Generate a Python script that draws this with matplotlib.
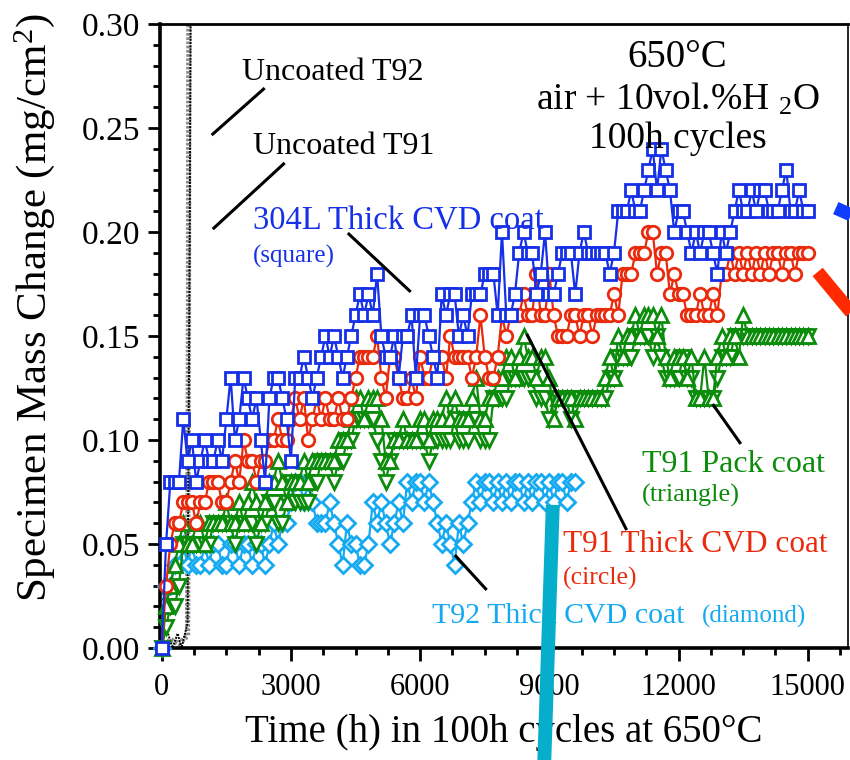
import numpy as np
import matplotlib
matplotlib.use("Agg")
import matplotlib.pyplot as plt
from matplotlib.ticker import MultipleLocator, FormatStrFormatter

# ---- measured mass change (mg/cm^2), one reading per 100 h cycle ----
hours_full = np.arange(0, 15100, 100)
hours_t92 = np.arange(0, 9700, 100)

mass_304L = [
    0.00, 0.05, 0.08, 0.08, 0.08, 0.11, 0.09, 0.10, 0.08, 0.09,
    0.10, 0.09, 0.09, 0.10, 0.09, 0.11, 0.13, 0.10, 0.11, 0.13,
    0.12, 0.11, 0.12, 0.10, 0.08, 0.12, 0.13, 0.13, 0.12, 0.11,
    0.09, 0.13, 0.13, 0.14, 0.13, 0.12, 0.13, 0.14, 0.15, 0.14,
    0.15, 0.14, 0.13, 0.14, 0.15, 0.16, 0.17, 0.16, 0.17, 0.16,
    0.18, 0.15, 0.14, 0.14, 0.15, 0.13, 0.15, 0.15, 0.16, 0.13,
    0.16, 0.16, 0.15, 0.14, 0.13, 0.17, 0.16, 0.17, 0.17, 0.15,
    0.16, 0.15, 0.17, 0.17, 0.17, 0.18, 0.18, 0.18, 0.16, 0.20,
    0.16, 0.16, 0.17, 0.19, 0.20, 0.19, 0.19, 0.17, 0.18, 0.20,
    0.17, 0.17, 0.18, 0.19, 0.19, 0.19, 0.17, 0.19, 0.20, 0.19,
    0.19, 0.19, 0.19, 0.19, 0.18, 0.19, 0.21, 0.21, 0.21, 0.22,
    0.21, 0.21, 0.22, 0.23, 0.24, 0.22, 0.24, 0.23, 0.22, 0.20,
    0.21, 0.21, 0.20, 0.19, 0.20, 0.19, 0.20, 0.20, 0.19, 0.18,
    0.20, 0.19, 0.20, 0.21, 0.22, 0.21, 0.21, 0.22, 0.21, 0.22,
    0.22, 0.21, 0.21, 0.21, 0.22, 0.23, 0.21, 0.21, 0.22, 0.21,
    0.21,
]

mass_t91_cvd = [
    0.00, 0.03, 0.05, 0.06, 0.06, 0.07, 0.07, 0.07, 0.06, 0.07,
    0.07, 0.08, 0.08, 0.08, 0.07, 0.07, 0.08, 0.09, 0.08, 0.10,
    0.09, 0.09, 0.08, 0.09, 0.09, 0.10, 0.10, 0.11, 0.10, 0.10,
    0.11, 0.12, 0.11, 0.12, 0.10, 0.11, 0.12, 0.11, 0.12, 0.11,
    0.11, 0.12, 0.11, 0.11, 0.12, 0.13, 0.14, 0.14, 0.14, 0.14,
    0.15, 0.13, 0.12, 0.14, 0.14, 0.13, 0.12, 0.12, 0.13, 0.12,
    0.14, 0.13, 0.13, 0.14, 0.14, 0.14, 0.13, 0.15, 0.14, 0.14,
    0.14, 0.14, 0.13, 0.14, 0.16, 0.14, 0.13, 0.13, 0.14, 0.16,
    0.15, 0.16, 0.16, 0.16, 0.17, 0.16, 0.16, 0.18, 0.16, 0.16,
    0.18, 0.16, 0.15, 0.15, 0.15, 0.16, 0.16, 0.15, 0.16, 0.16,
    0.15, 0.16, 0.16, 0.16, 0.16, 0.17, 0.16, 0.18, 0.18, 0.18,
    0.19, 0.19, 0.19, 0.20, 0.20, 0.18, 0.19, 0.19, 0.17, 0.18,
    0.17, 0.17, 0.16, 0.16, 0.16, 0.17, 0.16, 0.16, 0.17, 0.16,
    0.18, 0.18, 0.19, 0.18, 0.19, 0.18, 0.19, 0.18, 0.19, 0.18,
    0.19, 0.18, 0.19, 0.19, 0.18, 0.19, 0.19, 0.18, 0.19, 0.19,
    0.19,
]

mass_t91_pack_a = [
    0.00, 0.02, 0.03, 0.04, 0.05, 0.06, 0.05, 0.05, 0.06, 0.06,
    0.05, 0.06, 0.06, 0.06, 0.06, 0.07, 0.06, 0.06, 0.07, 0.06,
    0.07, 0.08, 0.07, 0.06, 0.07, 0.08, 0.08, 0.09, 0.08, 0.07,
    0.08, 0.08, 0.08, 0.09, 0.08, 0.09, 0.09, 0.09, 0.09, 0.09,
    0.09, 0.10, 0.10, 0.10, 0.11, 0.12, 0.12, 0.11, 0.12, 0.12,
    0.12, 0.11, 0.09, 0.09, 0.10, 0.10, 0.11, 0.10, 0.10, 0.10,
    0.11, 0.11, 0.10, 0.11, 0.11, 0.11, 0.12, 0.11, 0.12, 0.11,
    0.11, 0.11, 0.12, 0.13, 0.11, 0.11, 0.12, 0.12, 0.13, 0.13,
    0.14, 0.14, 0.13, 0.14, 0.15, 0.14, 0.14, 0.13, 0.14, 0.14,
    0.13, 0.11, 0.12, 0.12, 0.12, 0.12, 0.11, 0.12, 0.12, 0.12,
    0.12, 0.12, 0.12, 0.13, 0.14, 0.13, 0.15, 0.14, 0.15, 0.15,
    0.16, 0.15, 0.16, 0.16, 0.16, 0.15, 0.16, 0.14, 0.13, 0.14,
    0.14, 0.14, 0.13, 0.14, 0.12, 0.12, 0.14, 0.12, 0.12, 0.14,
    0.15, 0.14, 0.15, 0.15, 0.14, 0.16, 0.15, 0.15, 0.15, 0.15,
    0.15, 0.15, 0.15, 0.15, 0.15, 0.15, 0.15, 0.15, 0.15, 0.15,
    0.15,
]

mass_t91_pack_b = [
    0.00, 0.01, 0.02, 0.02, 0.03, 0.05, 0.05, 0.05, 0.05, 0.05,
    0.05, 0.05, 0.06, 0.06, 0.06, 0.06, 0.06, 0.05, 0.06, 0.06,
    0.06, 0.06, 0.05, 0.06, 0.06, 0.07, 0.07, 0.06, 0.06, 0.07,
    0.08, 0.07, 0.07, 0.07, 0.07, 0.08, 0.08, 0.09, 0.09, 0.09,
    0.08, 0.09, 0.09, 0.10, 0.10, 0.11, 0.11, 0.11, 0.11, 0.11,
    0.10, 0.09, 0.08, 0.09, 0.10, 0.10, 0.10, 0.10, 0.10, 0.10,
    0.10, 0.10, 0.09, 0.10, 0.10, 0.10, 0.10, 0.10, 0.11, 0.10,
    0.10, 0.10, 0.11, 0.11, 0.10, 0.10, 0.10, 0.12, 0.12, 0.12,
    0.12, 0.13, 0.13, 0.13, 0.13, 0.13, 0.13, 0.12, 0.12, 0.12,
    0.11, 0.12, 0.12, 0.12, 0.12, 0.11, 0.12, 0.12, 0.12, 0.12,
    0.12, 0.12, 0.12, 0.12, 0.13, 0.13, 0.14, 0.14, 0.14, 0.14,
    0.15, 0.15, 0.15, 0.15, 0.14, 0.15, 0.14, 0.13, 0.13, 0.13,
    0.13, 0.14, 0.13, 0.13, 0.12, 0.12, 0.12, 0.12, 0.12, 0.13,
    0.14, 0.14, 0.14, 0.15, 0.15, 0.15, 0.15, 0.15, 0.15, 0.15,
    0.15, 0.15, 0.15, 0.15, 0.15, 0.15, 0.15, 0.15, 0.15, 0.15,
    0.15,
]

mass_t92_cvd = [
    0.00, 0.03, 0.03, 0.04, 0.04, 0.05, 0.04, 0.05, 0.04, 0.04,
    0.05, 0.04, 0.05, 0.05, 0.04, 0.04, 0.05, 0.05, 0.04, 0.05,
    0.05, 0.04, 0.05, 0.05, 0.04, 0.05, 0.06, 0.05, 0.06, 0.06,
    0.07, 0.08, 0.08, 0.07, 0.08, 0.07, 0.06, 0.06, 0.06, 0.07,
    0.06, 0.05, 0.04, 0.06, 0.05, 0.05, 0.04, 0.04, 0.05, 0.07,
    0.06, 0.07, 0.06, 0.05, 0.06, 0.07, 0.06, 0.08, 0.07, 0.08,
    0.08, 0.07, 0.08, 0.07, 0.06, 0.05, 0.06, 0.05, 0.04, 0.06,
    0.05, 0.06, 0.07, 0.08, 0.07, 0.08, 0.08, 0.07, 0.08, 0.07,
    0.08, 0.07, 0.08, 0.08, 0.07, 0.08, 0.07, 0.08, 0.08, 0.07,
    0.08, 0.07, 0.08, 0.08, 0.07, 0.08, 0.08,
]

# uncoated alloys: fast breakaway oxidation after ~600 h
hours_uncoated = [0, 100, 250, 370, 460, 600, 650, 700]
mass_uncoated_t91 = [0.000, 0.010, 0.000, 0.007, 0.000, 0.012, 0.20, 0.45]
hours_uncoated_t92 = [0, 200, 400, 600, 620, 640]
mass_uncoated_t92 = [0.000, 0.004, 0.002, 0.006, 0.15, 0.45]

# leader lines (start, end) in data units
leader_uncoated_t92 = ([1160, 2390], [0.2466, 0.2692])
leader_uncoated_t91 = ([1185, 2855], [0.2014, 0.2332])
leader_304L = ([4320, 5780], [0.1995, 0.1712])
leader_t91_cvd = ([8475, 10795], [0.1510, 0.0567])
leader_t91_pack = ([12790, 13445], [0.1173, 0.0981])
leader_t92_cvd = ([6805, 7545], [0.0447, 0.0279])

# coloured pointer bars running out of the frame
pointer_t92 = ([9080, 8880], [0.0688, -0.0560])
pointer_t91 = ([15230, 16300], [0.1808, 0.1540])
pointer_304L = ([15650, 16300], [0.2115, 0.2055])

# ---- style ----
plt.rcParams["font.family"] = ["Liberation Serif", "DejaVu Serif"]
plt.rcParams["mathtext.fontset"] = "custom"
plt.rcParams["mathtext.rm"] = "Liberation Serif"
plt.rcParams["mathtext.it"] = "Liberation Serif:italic"

BLUE = "#1530e6"
RED = "#ea2a0c"
GREEN = "#0b8c0b"
CYAN = "#14a9f0"

fig = plt.figure(figsize=(8.5, 7.6), dpi=100)
ax = fig.add_axes([160 / 850, 1 - 648 / 760, 688 / 850, 624 / 760])

# uncoated references
ax.plot(hours_uncoated_t92, mass_uncoated_t92, color="#8a8a8a", lw=3.8,
        ls=(0, (0.5, 0.3)), zorder=2)
ax.plot(hours_uncoated, mass_uncoated_t91, color="black", lw=1.4,
        ls=(0, (1, 0.6)), zorder=2)

common = dict(lw=1.6, mew=2.0, mfc="white", clip_on=False)
ax.plot(hours_t92, mass_t92_cvd, color=CYAN, marker="D", ms=8.0, zorder=3, **common)
ax.plot(hours_full, mass_t91_pack_b, color=GREEN, marker="v", ms=9.5, zorder=4, **common)
ax.plot(hours_full, mass_t91_pack_a, color=GREEN, marker="^", ms=9.5, zorder=4, **common)
ax.plot(hours_full, mass_t91_cvd, color=RED, marker="o", ms=9.0, zorder=5, **common)
ax.plot(hours_full, mass_304L, color=BLUE, marker="s", ms=9.0, zorder=6, **common)

# leader lines
for xs, ys in (leader_uncoated_t92, leader_uncoated_t91, leader_304L,
               leader_t91_cvd, leader_t91_pack, leader_t92_cvd):
    ax.plot(xs, ys, color="black", lw=2.2, solid_capstyle="butt", zorder=7)

# labels
ax.text(1855, 0.2731, "Uncoated T92", fontsize=23, color="black", zorder=8)
ax.text(2115, 0.2375, "Uncoated T91", fontsize=23, color="black", zorder=8)
ax.text(2115, 0.2010, "304L Thick CVD coat", fontsize=23.5, color=BLUE, zorder=8)
ax.text(2115, 0.1851, "(square)", fontsize=18, color=BLUE, zorder=8)
ax.text(11145, 0.0846, "T91 Pack coat", fontsize=23, color=GREEN, zorder=8)
ax.text(11145, 0.0702, "(triangle)", fontsize=19, color=GREEN, zorder=8)
ax.text(9310, 0.0462, "T91 Thick CVD coat", fontsize=22.5, color=RED, zorder=8)
ax.text(9310, 0.0303, "(circle)", fontsize=18.5, color=RED, zorder=8)
ax.text(6270, 0.0120, "T92 Thick CVD coat", fontsize=21.5, color=CYAN, zorder=8)
ax.text(12540, 0.0120, "(diamond)", fontsize=18, color=CYAN, zorder=8)

ax.text(11980, 0.2793, "650\u00b0C", fontsize=28, ha="center", zorder=8)
ax.text(11980, 0.2587, "air + 10vol.%H $_{2}$O", fontsize=27, ha="center", zorder=8)
ax.text(11980, 0.2404, "100h cycles", fontsize=27, ha="center", zorder=8)

# pointer bars drawn on top, allowed to leave the frame
ax.plot(*pointer_t92, color="#06aecb", lw=10, solid_capstyle="butt",
        clip_on=False, zorder=10)
ax.plot(*pointer_t91, color="#ff2a00", lw=9.5, solid_capstyle="butt",
        clip_on=False, zorder=10)
ax.plot(*pointer_304L, color="#0f3cff", lw=9.5, solid_capstyle="butt",
        clip_on=False, zorder=10)

# axes
ax.set_xlim(-40, 15934)
ax.set_ylim(0, 0.30)
ax.xaxis.set_major_locator(MultipleLocator(3000))
ax.xaxis.set_minor_locator(MultipleLocator(750))
ax.yaxis.set_major_locator(MultipleLocator(0.05))
ax.yaxis.set_minor_locator(MultipleLocator(0.01))
ax.yaxis.set_major_formatter(FormatStrFormatter("%.2f"))

ax.tick_params(which="both", direction="out", top=False, right=False, width=2.0)
ax.tick_params(axis="x", labelsize=22, pad=9)
ax.tick_params(axis="y", labelsize=24, pad=5)
ax.tick_params(which="major", length=9)
ax.tick_params(which="minor", length=5)

ax.spines["left"].set_linewidth(2.6)
ax.spines["bottom"].set_linewidth(2.6)
ax.spines["top"].set_linewidth(2.0)
ax.spines["right"].set_linewidth(1.2)

ax.set_xlabel("Time (h) in 100h cycles at 650\u00b0C", fontsize=28)
ax.xaxis.set_label_coords(0.5, -0.105)
ax.set_ylabel("Specimen Mass Change (mg/cm$^{2}$)", fontsize=31)
ax.yaxis.set_label_coords(-0.15, 0.545)

fig.savefig("out.png", dpi=100)
